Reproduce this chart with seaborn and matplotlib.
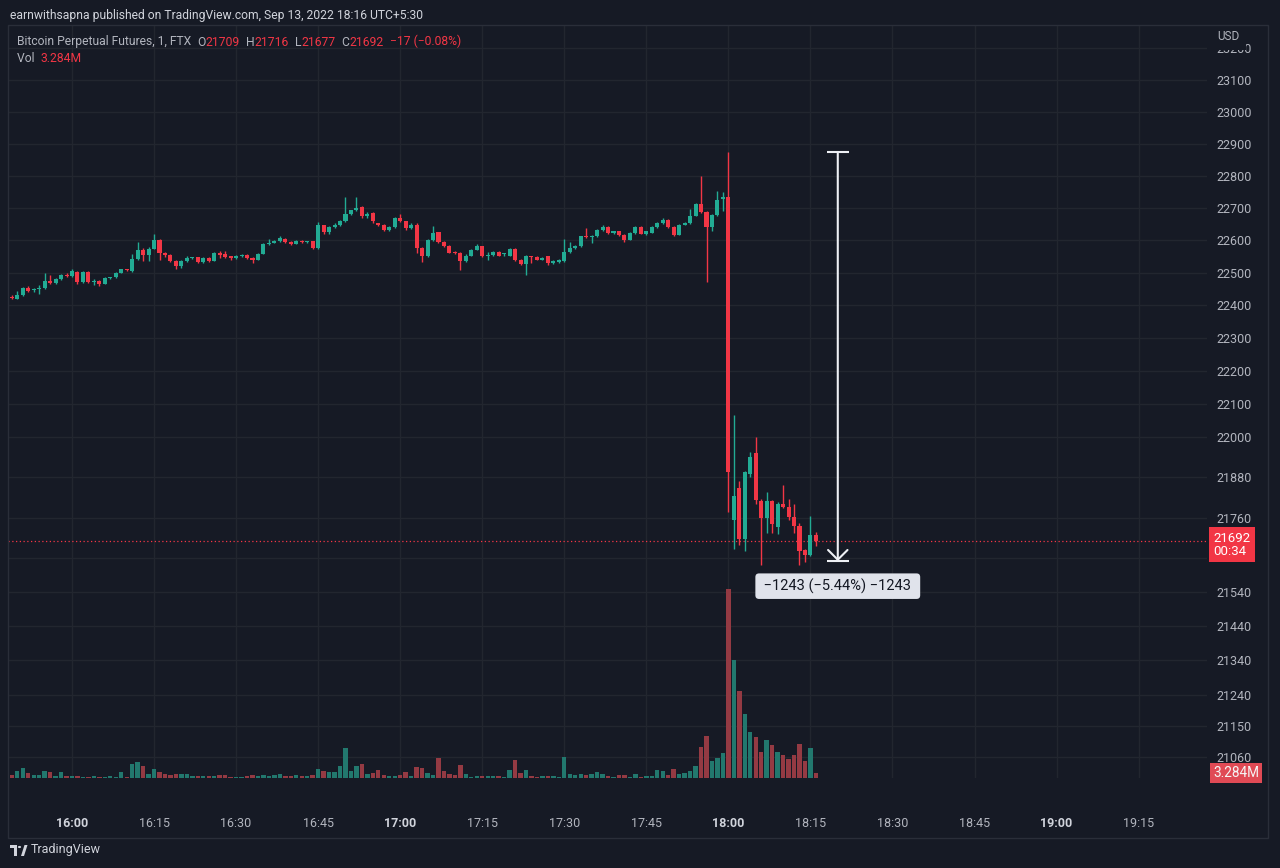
import numpy as np
import pandas as pd
import seaborn as sns
import matplotlib.pyplot as plt
from matplotlib.patches import Rectangle, Polygon, Circle
from matplotlib.ticker import FixedLocator, NullLocator, FixedFormatter

# one candle per minute, minutes counted from 16:00 (15:49 ... 18:16)
minutes = list(range(-11, 137))

opens = [22426, 22420, 22433, 22453, 22446, 22450, 22452, 22476, 22469, 22480,
         22494, 22490, 22503, 22471, 22502, 22471, 22475, 22466, 22484, 22486,
         22500, 22510, 22505, 22543, 22570, 22555, 22574, 22600, 22561, 22553,
         22536, 22520, 22535, 22546, 22547, 22533, 22546, 22537, 22561, 22558,
         22550, 22545, 22550, 22555, 22545, 22540, 22558, 22587, 22592, 22597,
         22605, 22595, 22589, 22599, 22594, 22597, 22576, 22646, 22626, 22640,
         22648, 22660, 22682, 22692, 22702, 22674, 22684, 22652, 22648, 22633,
         22640, 22670, 22658, 22638, 22648, 22576, 22550, 22601, 22624, 22596,
         22583, 22564, 22562, 22535, 22552, 22571, 22581, 22550, 22553, 22565,
         22556, 22552, 22573, 22540, 22527, 22550, 22548, 22540, 22550, 22530,
         22534, 22535, 22565, 22576, 22583, 22612, 22609, 22612, 22633, 22640,
         22622, 22627, 22617, 22602, 22622, 22641, 22620, 22623, 22641, 22653,
         22663, 22641, 22617, 22648, 22653, 22676, 22712, 22686, 22640, 22679,
         22728, 22734, 21753, 21848, 21696, 21890, 21952, 21808, 21758, 21808,
         21733, 21801, 21792, 21763, 21736, 21663, 21650, 21709]

highs = [22432, 22444, 22456, 22460, 22452, 22462, 22498, 22494, 22484, 22497,
         22498, 22510, 22506, 22504, 22505, 22480, 22477, 22486, 22488, 22502,
         22512, 22512, 22556, 22594, 22575, 22578, 22618, 22604, 22565, 22556,
         22538, 22538, 22550, 22549, 22549, 22548, 22549, 22563, 22566, 22568,
         22552, 22553, 22558, 22557, 22547, 22560, 22590, 22604, 22600, 22612,
         22608, 22597, 22600, 22601, 22599, 22599, 22657, 22648, 22643, 22652,
         22662, 22733, 22695, 22733, 22705, 22688, 22686, 22654, 22650, 22645,
         22672, 22680, 22660, 22652, 22652, 22578, 22604, 22645, 22626, 22598,
         22585, 22566, 22564, 22556, 22574, 22589, 22583, 22563, 22568, 22567,
         22562, 22576, 22575, 22542, 22555, 22552, 22550, 22548, 22552, 22538,
         22541, 22603, 22593, 22586, 22614, 22638, 22616, 22636, 22648, 22643,
         22630, 22630, 22620, 22625, 22645, 22643, 22630, 22644, 22656, 22668,
         22665, 22643, 22650, 22656, 22697, 22715, 22800, 22690, 22682, 22752,
         22750, 22874, 22067, 21870, 21900, 21955, 22000, 21815, 21836, 21812,
         21806, 21857, 21815, 21801, 21745, 21668, 21765, 21716]

lows = [22418, 22418, 22430, 22440, 22442, 22436, 22450, 22466, 22465, 22478,
        22486, 22488, 22466, 22468, 22468, 22462, 22458, 22464, 22481, 22484,
        22498, 22505, 22503, 22540, 22535, 22535, 22572, 22540, 22548, 22532,
        22512, 22515, 22532, 22543, 22530, 22530, 22534, 22535, 22545, 22544,
        22540, 22543, 22548, 22542, 22530, 22538, 22556, 22585, 22590, 22595,
        22592, 22586, 22587, 22592, 22592, 22574, 22574, 22620, 22620, 22638,
        22645, 22656, 22678, 22690, 22668, 22670, 22652, 22645, 22630, 22630,
        22638, 22655, 22632, 22635, 22560, 22534, 22548, 22598, 22592, 22580,
        22560, 22556, 22507, 22532, 22550, 22569, 22548, 22540, 22550, 22550,
        22552, 22550, 22536, 22524, 22493, 22530, 22538, 22538, 22525, 22528,
        22530, 22533, 22562, 22574, 22580, 22607, 22590, 22610, 22630, 22620,
        22619, 22614, 22596, 22600, 22620, 22618, 22617, 22621, 22639, 22651,
        22638, 22612, 22615, 22646, 22651, 22674, 22684, 22472, 22628, 22676,
        22690, 21776, 21666, 21680, 21660, 21880, 21800, 21620, 21713, 21713,
        21710, 21790, 21753, 21714, 21620, 21630, 21645, 21677]

closes = [22422, 22433, 22453, 22444, 22450, 22452, 22474, 22469, 22480, 22494,
          22490, 22504, 22471, 22502, 22471, 22476, 22466, 22484, 22486, 22500,
          22510, 22507, 22543, 22569, 22555, 22574, 22600, 22561, 22553, 22535,
          22520, 22535, 22546, 22547, 22533, 22545, 22537, 22561, 22555, 22547,
          22545, 22550, 22555, 22545, 22540, 22558, 22587, 22592, 22597, 22607,
          22595, 22589, 22599, 22594, 22597, 22576, 22646, 22626, 22640, 22648,
          22660, 22682, 22692, 22700, 22674, 22681, 22658, 22648, 22633, 22640,
          22669, 22658, 22638, 22648, 22576, 22550, 22601, 22622, 22596, 22583,
          22562, 22560, 22535, 22552, 22571, 22581, 22550, 22555, 22565, 22552,
          22560, 22573, 22540, 22527, 22550, 22547, 22540, 22545, 22530, 22535,
          22538, 22565, 22576, 22583, 22612, 22609, 22612, 22633, 22642, 22622,
          22627, 22617, 22602, 22622, 22641, 22620, 22628, 22641, 22653, 22663,
          22641, 22617, 22648, 22653, 22676, 22712, 22686, 22640, 22679, 22726,
          22734, 21896, 21824, 21696, 21896, 21940, 21811, 21758, 21808, 21741,
          21802, 21792, 21763, 21736, 21660, 21650, 21709, 21692]

# volume in millions
volumes = [1.8, 4.4, 6.6, 3.3, 1.8, 1.8, 4.4, 3.7, 1.3, 3.7,
           1.1, 1.1, 1.1, 0.7, 0.5, 1.1, 0.7, 0.5, 1.1, 0.7,
           3.7, 0.9, 9.0, 10.5, 7.7, 2.8, 6.1, 3.7, 2.4, 2.2,
           2.8, 2.8, 2.8, 1.5, 1.3, 1.1, 1.5, 1.3, 1.8, 2.2,
           0.9, 0.5, 0.7, 1.1, 1.8, 1.1, 2.2, 1.5, 2.2, 2.4,
           1.3, 1.1, 2.2, 1.1, 1.5, 1.8, 6.1, 4.6, 3.7, 3.7,
           7.7, 19.3, 4.4, 7.7, 9.4, 2.8, 3.3, 5.1, 1.8, 1.1,
           1.1, 2.0, 3.9, 1.0, 7.2, 6.6, 3.3, 1.8, 12.7, 4.4,
           2.8, 2.2, 8.7, 2.4, 0.9, 1.1, 1.3, 1.3, 1.3, 1.3,
           0.7, 5.5, 12.0, 3.3, 5.5, 1.3, 0.9, 1.1, 1.3, 1.3,
           0.7, 13.8, 2.4, 1.8, 2.8, 2.2, 2.8, 3.7, 2.6, 1.3,
           0.7, 1.8, 2.0, 0.5, 2.4, 0.7, 1.3, 1.3, 5.3, 4.8,
           2.0, 6.1, 2.6, 3.5, 4.4, 8.1, 20.4, 27.4, 11.2, 12.7,
           16.0, 122.9, 76.9, 56.5, 41.6, 30.2, 26.9, 16.6, 24.8, 21.5,
           16.6, 14.9, 12.3, 14.9, 21.9, 11.2, 19.3, 3.284]

price_ticks = [21060, 21150, 21240, 21340, 21440, 21540, 21640, 21760, 21880,
               22000, 22100, 22200, 22300, 22400, 22500, 22600, 22700, 22800,
               22900, 23000, 23100, 23200]
# 21640 sits under the last-price badge, so its label is not shown
price_labels = ["21060", "21150", "21240", "21340", "21440", "21540", "", "21760",
                "21880", "22000", "22100", "22200", "22300", "22400", "22500",
                "22600", "22700", "22800", "22900", "23000", "23100", "23200"]
time_ticks = [0, 15, 30, 45, 60, 75, 90, 105, 120, 135, 150, 165, 180, 195]
time_labels = ["16:00", "16:15", "16:30", "16:45", "17:00", "17:15", "17:30",
               "17:45", "18:00", "18:15", "18:30", "18:45", "19:00", "19:15"]
hour_labels = ["16:00", "17:00", "18:00", "19:00"]

measure_minute = 140
measure_top = 22874
measure_change = -1243
measure_pct = -5.44
countdown = "00:34"

W, H = 1280, 868
BG = "#161a25"
GRID = "#22262f"
TXT = "#b2b5be"
UP, DOWN = "#22ab94", "#f23645"
VOL_UP, VOL_DOWN = "#22786e", "#943a43"

df = pd.DataFrame({"minute": minutes, "open": opens, "high": highs,
                   "low": lows, "close": closes, "volume": volumes})
df["dir"] = np.where(df["close"] >= df["open"], "up", "down")

sns.set_style("dark", {"axes.facecolor": BG, "figure.facecolor": BG,
                       "axes.edgecolor": BG, "text.color": TXT,
                       "xtick.color": TXT, "ytick.color": TXT})
plt.rcParams["font.family"] = ["Roboto", "DejaVu Sans"]


def fx(px):
    return px / W


def fy(py):
    return 1 - py / H


fig = plt.figure(figsize=(12.8, 8.68), dpi=100, facecolor=BG)
ax = fig.add_axes([fx(8), fy(778), fx(1207 - 8), (778 - 25) / H])
ax.set_facecolor(BG)
axv = ax.twinx()

# volume overlay
sns.barplot(data=df, x="minute", y="volume", hue="dir", hue_order=["up", "down"],
            palette={"up": VOL_UP, "down": VOL_DOWN}, native_scale=True,
            dodge=False, errorbar=None, width=0.8, saturation=1, legend=False,
            linewidth=0, ax=axv)
axv.set_ylim(0, df["volume"].max() * 3.98)
axv.set_yticks([])
axv.set_ylabel("")
axv.set_xlabel("")

# candles
colors = np.where(df["dir"] == "up", UP, DOWN)
ax.set_yscale("log")
ax.vlines(df["minute"], df["low"], df["high"], colors=colors, lw=1.0, zorder=3)
body_lo = np.minimum(df["open"], df["close"])
body_h = np.maximum((df["close"] - df["open"]).abs(), 1.5)
ax.bar(df["minute"], body_h, bottom=body_lo, width=0.74, color=colors,
       linewidth=0, zorder=4)

ax.set_xlim(-11.7, 207.5)
ax.set_ylim(21000, 23274)

ax.yaxis.tick_right()
ax.yaxis.set_major_locator(FixedLocator(price_ticks))
ax.yaxis.set_minor_locator(NullLocator())
ax.yaxis.set_major_formatter(FixedFormatter(price_labels))
ax.tick_params(axis="y", length=0, pad=7, labelsize=9, labelcolor=TXT)
ax.set_xticks(time_ticks)
ax.set_xticklabels(time_labels)
ax.tick_params(axis="x", length=0, pad=28, labelsize=9, labelcolor=TXT)
for lab in ax.get_xticklabels():
    if lab.get_text() in hour_labels:
        lab.set_fontweight("bold")
        lab.set_color("#d1d4dc")
ax.grid(True, color=GRID, lw=1)
ax.set_axisbelow(True)
for a in (ax, axv):
    for s in a.spines.values():
        s.set_visible(False)

# last price line + labels
last_close = closes[-1]
ax.axhline(last_close, color=DOWN, lw=0.9, ls=(0, (1, 2)), zorder=2)
ax.annotate(f"{last_close}\n{countdown}", xy=(1, last_close),
            xycoords=("axes fraction", "data"), xytext=(4.5, 6.5),
            textcoords="offset points", ha="left", va="top", fontsize=9.5,
            color="white", linespacing=1.0, annotation_clip=False, zorder=10,
            bbox=dict(boxstyle="square,pad=0.35", fc=DOWN, ec="none"))
axv.annotate(f"{volumes[-1]:.3f}M", xy=(1, volumes[-1]),
             xycoords=("axes fraction", "data"), xytext=(4.5, 0),
             textcoords="offset points", ha="left", va="center", fontsize=9.8,
             color="#f5f5f5", annotation_clip=False, zorder=10,
             bbox=dict(boxstyle="square,pad=0.22", fc="#e04a55", ec="none"))

# measure tool
MEASURE = "#eef0f5"
m_bottom = measure_top + measure_change
ax.annotate("", xy=(measure_minute, m_bottom), xytext=(measure_minute, measure_top),
            arrowprops=dict(arrowstyle="->,head_length=0.35,head_width=0.35",
                            color=MEASURE, lw=1.5, shrinkA=0, shrinkB=0,
                            mutation_scale=20), zorder=6)
ax.hlines([measure_top, m_bottom], measure_minute - 2, measure_minute + 2,
          color=MEASURE, lw=1.5, zorder=6)
m_text = f" {measure_change} ({measure_pct:.2f}%) {measure_change} ".replace("-", "\u2212")
ax.annotate(m_text, xy=(measure_minute, m_bottom), xytext=(0, -18),
            textcoords="offset points", ha="center", va="center", fontsize=10.5,
            color="#131722", zorder=7,
            bbox=dict(boxstyle="round,pad=0.35,rounding_size=0.25", fc="#e0e3eb", ec="none"))

# header texts
fig.text(fx(10), fy(16), "earnwithsapna published on TradingView.com, Sep 13, 2022 18:16 UTC+5:30",
         fontsize=8.7, color="#d1d4dc", va="center")
chg = closes[-1] - closes[-2]
pct = chg / closes[-2] * 100
parts = [("O", TXT), (f"{opens[-1]}", DOWN), ("  H", TXT), (f"{highs[-1]}", DOWN),
         ("  L", TXT), (f"{lows[-1]}", DOWN), ("  C", TXT), (f"{closes[-1]}", DOWN),
         (f"  {chg} ({pct:.2f}%)".replace("-", "\u2212"), DOWN)]
t = fig.text(fx(17), fy(42), "Bitcoin Perpetual Futures, 1, FTX  ", fontsize=8.7,
             color=TXT, va="center")
for s, c in parts:
    t = ax.annotate(s, xy=(1, 0), xycoords=t, ha="left", va="bottom",
                    fontsize=8.7, color=c)
t = fig.text(fx(17), fy(58), "Vol  ", fontsize=8.7, color=TXT, va="center")
ax.annotate(f"{volumes[-1]:.3f}M", xy=(1, 0), xycoords=t, ha="left", va="bottom",
            fontsize=8.7, color=DOWN)

fig.text(fx(1217), fy(37), "USD", fontsize=8.5, color=TXT, va="center",
         bbox=dict(fc=BG, ec="none", pad=4.5))

# pane border, drawn above the USD cover box
fig.add_artist(Rectangle((fx(8), fy(838)), fx(1260), (838 - 25) / H, fill=False,
                         ec="#2a2e39", lw=1, transform=fig.transFigure, zorder=5))

# footer logo
logo = "#d1d4dc"
tr = fig.transFigure
fig.add_artist(Rectangle((fx(10), fy(848)), fx(7), 3 / H, fc=logo, ec="none", transform=tr))
fig.add_artist(Rectangle((fx(14), fy(856)), fx(3), 11 / H, fc=logo, ec="none", transform=tr))
fig.add_artist(Circle((fx(19.5), fy(847)), 1.6 / W, fc=logo, ec="none", transform=tr))
fig.add_artist(Polygon([(fx(21), fy(856)), (fx(24.5), fy(845)), (fx(27.5), fy(845)),
                        (fx(24), fy(856))], closed=True, fc=logo, ec="none", transform=tr))
fig.text(fx(31), fy(850), "TradingView", fontsize=9, color=logo, va="center")

fig.savefig("out.png", dpi=100, facecolor=BG)
